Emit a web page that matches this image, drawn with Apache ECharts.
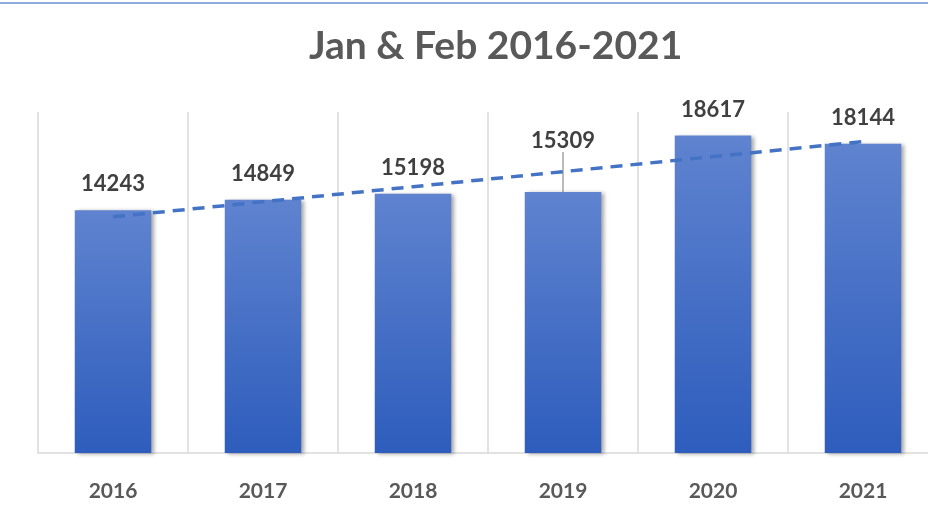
<!DOCTYPE html>
<html>
<head>
<meta charset="utf-8">
<script src="https://cdn.jsdelivr.net/npm/echarts@6/dist/echarts.min.js"></script>
<style>
  html, body { margin: 0; padding: 0; background: #fff; }
  #chart { width: 928px; height: 507px; }
</style>
</head>
<body>
<div id="chart"></div>
<script>
const years = ['2016', '2017', '2018', '2019', '2020', '2021']
const totals = [14243, 14849, 15198, 15309, 18617, 18144]

// least squares trend, same as Excel's linear trendline
const n = totals.length
const xMean = (n - 1) / 2
const yMean = totals.reduce((a, b) => a + b, 0) / n
let num = 0
let den = 0
totals.forEach((v, i) => {
  num += (i - xMean) * (v - yMean)
  den += (i - xMean) * (i - xMean)
})
const slope = num / den
const trend = totals.map((v, i) => yMean + slope * (i - xMean))

// 2019 label sits higher, with a leader line, like in Excel
const barData = totals.map((v, i) => i === 3 ? { value: v, labelLine: { show: true } } : v)

const myChart = echarts.init(document.getElementById('chart'))
myChart.setOption({
  animation: false,
  textStyle: { fontFamily: 'Lato' },
  title: {
    text: 'Jan & Feb 2016-2021',
    left: 304,
    top: 22,
    textStyle: { fontSize: 39, fontWeight: 'bold', color: '#595959', fontFamily: 'Lato' }
  },
  graphic: [{
    type: 'line',
    shape: { x1: 0, y1: 3, x2: 928, y2: 3 },
    style: { stroke: '#8faadc', lineWidth: 2 }
  }],
  grid: { left: 38, top: 112, width: 900, bottom: 54, outerBoundsMode: 'none' },
  xAxis: {
    type: 'category',
    data: years,
    axisLine: { lineStyle: { color: '#d9d9d9', width: 1.5 } },
    axisTick: { show: false },
    splitLine: { show: true, lineStyle: { color: '#d9d9d9', width: 1.5 } },
    axisLabel: { color: '#595959', fontSize: 21, fontWeight: 'bold', margin: 28 }
  },
  yAxis: {
    type: 'value',
    min: 0,
    max: 20000,
    show: false,
    splitLine: { show: false }
  },
  series: [
    {
      name: 'Total',
      type: 'bar',
      data: barData,
      barWidth: '51%',
      itemStyle: {
        color: new echarts.graphic.LinearGradient(0, 0, 0, 1, [
          { offset: 0, color: '#5f83cf' },
          { offset: 1, color: '#2e5dbd' }
        ]),
        shadowColor: 'rgba(0, 0, 0, 0.35)',
        shadowBlur: 4,
        shadowOffsetX: 3,
        shadowOffsetY: 1
      },
      label: {
        show: true,
        position: 'top',
        distance: 15,
        color: '#404040',
        fontSize: 22,
        fontWeight: 'bold'
      },
      labelLayout: (params) => params.dataIndex === 3 ? { dy: -25 } : {},
      labelLine: { show: false, lineStyle: { color: '#a6a6a6', width: 1.5 } }
    },
    {
      name: 'Trend',
      type: 'line',
      data: trend,
      symbol: 'none',
      z: 5,
      lineStyle: { color: '#4472c4', width: 3.5, type: [12, 8] }
    }
  ]
})
</script>
</body>
</html>
